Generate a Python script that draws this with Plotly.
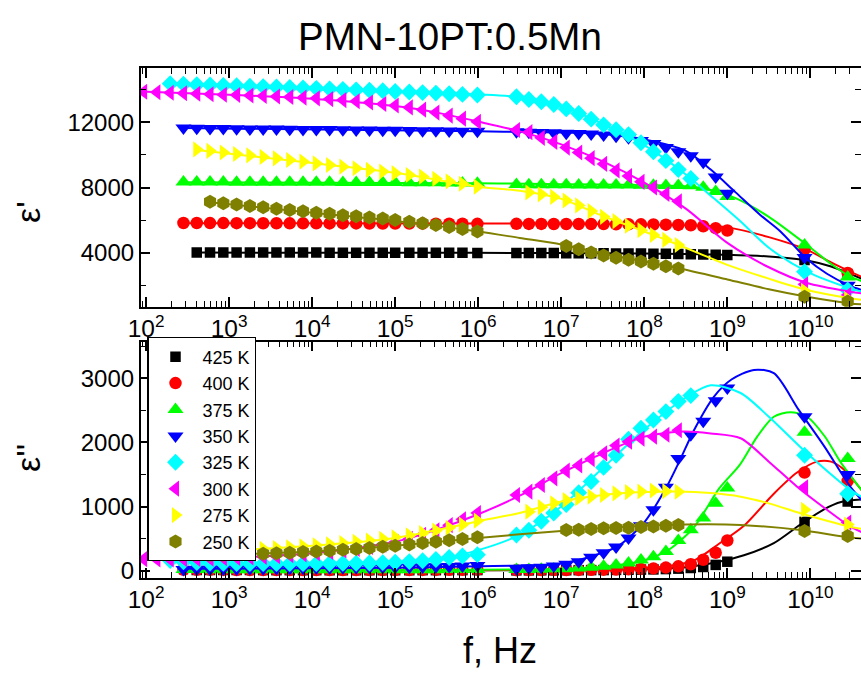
import plotly.graph_objects as go

# ---------------- data (log10 of frequency in Hz) ----------------
LF_LOG = [1.97, 2.13, 2.29, 2.45, 2.61, 2.77, 2.93, 3.09, 3.25, 3.41, 3.57, 3.73, 3.89,
          4.05, 4.21, 4.37, 4.53, 4.69, 4.85, 5.00, 5.17, 5.33, 5.49, 5.65, 5.81, 5.99]
HF_LOG = [6.46, 6.61, 6.76, 6.91, 7.06, 7.21, 7.36, 7.51, 7.66, 7.81, 7.96, 8.11,
          8.26, 8.41, 8.56, 8.71, 8.86, 9.00]
GHZ_LOG = [9.93, 10.45]

NAMES = ["425 K", "400 K", "375 K", "350 K", "325 K", "300 K", "275 K", "250 K"]
COLORS = ["#000000", "#FF0000", "#00FF00", "#0000FF", "#00FFFF", "#FF00FF", "#FFFF00", "#808000"]
SYMBOLS = ["square", "circle", "triangle-up", "triangle-down", "diamond",
           "triangle-left", "triangle-right", "hexagon"]
SIZES = [10.5, 12.5, 14, 14, 13, 14, 14, 14]
LF_FROM = [4, 3, 3, 3, 2, 0, 4, 5]
HF_FROM = [0, 0, 0, 0, 0, 0, 1, 4]
HF_TO = [18, 18, 18, 18, 15, 14, 14, 14]

# eps' (real part) markers: LF part, HF part, GHz part
E1_425 = [4010, 4010, 4005, 4005, 4005, 4000, 4000, 4000, 4000, 4000, 3995, 3995, 3995, 3995,
          3990, 3990, 3990, 3990, 3985, 3985, 3985, 3980,
          3975, 3975, 3970, 3970, 3965, 3960, 3960, 3955, 3950, 3945, 3940, 3935, 3925, 3915,
          3905, 3890, 3870, 3850,
          3550, 2650]
E1_400 = [5820, 5820, 5815, 5815, 5810, 5810, 5805, 5805, 5800, 5800, 5800, 5795, 5795, 5795,
          5790, 5790, 5790, 5785, 5785, 5780, 5780, 5775, 5770,
          5770, 5765, 5765, 5760, 5760, 5755, 5750, 5750, 5745, 5740, 5735, 5725, 5715, 5700,
          5680, 5620, 5500, 5360,
          4200, 2750]
E1_375 = [8340, 8340, 8335, 8335, 8330, 8330, 8325, 8325, 8320, 8320, 8315, 8315, 8310, 8310,
          8305, 8300, 8300, 8295, 8290, 8285, 8280, 8270, 8260,
          8180, 8175, 8170, 8170, 8165, 8160, 8160, 8155, 8150, 8150, 8145, 8140, 8130, 8120,
          8100, 8020, 7750, 7450,
          4470, 2500]
E1_350 = [11650, 11640, 11630, 11620, 11610, 11600, 11600, 11590, 11580, 11570, 11560, 11560,
          11550, 11540, 11530, 11520, 11510, 11500, 11490, 11480, 11470, 11460, 11450,
          11420, 11400, 11380, 11360, 11340, 11320, 11280, 11230, 11150, 11050, 10880, 10700,
          10450, 10200, 9950, 9550, 8650, 7650,
          3700, 2000]
E1_325 = [14380, 14350, 14320, 14300, 14270, 14250, 14220, 14200, 14170, 14150, 14120, 14090,
          14060, 14030, 14000, 13970, 13940, 13900, 13870, 13830, 13800, 13760, 13720, 13680,
          13575, 13410, 13270, 13100, 12830, 12550, 12200, 11850, 11550, 11250, 10750, 10200,
          9650, 9100, 8550,
          2830, 1700]
E1_300 = [13880, 13850, 13820, 13790, 13760, 13730, 13700, 13680, 13650, 13620, 13590, 13560,
          13520, 13480, 13430, 13370, 13300, 13220, 13130, 13040, 12920, 12780, 12600, 12420,
          12230, 12040,
          11530, 11400, 11050, 10800, 10450, 10150, 9800, 9450, 9050, 8700, 8350, 8000, 7600, 7150,
          2050, 1400]
E1_275 = [10340, 10250, 10150, 10060, 9970, 9880, 9790, 9690, 9590, 9480, 9380, 9280, 9180,
          9080, 8980, 8880, 8770, 8670, 8530, 8380, 8230, 8050,
          7700, 7580, 7420, 7200, 6900, 6550, 6200, 5930, 5650, 5380, 5080, 4780, 4470,
          1650, 1150]
E1_250 = [7130, 7040, 6950, 6860, 6780, 6700, 6620, 6540, 6450, 6380, 6300, 6230, 6160, 6090,
          6000, 5900, 5800, 5700, 5580, 5450, 5290,
          4400, 4200, 4000, 3820, 3680, 3560, 3460, 3320, 3160, 3020,
          1290, 1000]

# eps'' (imaginary part) markers
E2_425 = [12, 11, 10, 10, 9, 9, 8, 8, 8, 8, 7, 7, 7, 7, 7, 7, 7, 8, 8, 9, 9, 10,
          5, 5, 6, 6, 7, 8, 9, 10, 12, 14, 17, 20, 25, 32, 42, 58, 90, 140,
          760, 1080]
E2_400 = [15, 14, 13, 12, 11, 11, 10, 10, 10, 10, 10, 10, 10, 10, 10, 10, 11, 11, 12, 12, 13, 14, 15,
          8, 8, 9, 10, 11, 12, 14, 16, 19, 23, 28, 36, 48, 68, 100, 170, 280, 470,
          1530, 1400]
E2_375 = [20, 18, 16, 15, 14, 14, 13, 13, 13, 13, 13, 13, 13, 13, 13, 14, 14, 15, 15, 16, 17, 18, 20,
          17, 19, 22, 26, 32, 40, 52, 70, 90, 120, 166, 218, 300, 470, 640, 820, 1050, 1290,
          2160, 1750]
E2_350 = [20, 22, 24, 26, 28, 30, 32, 34, 36, 38, 40, 42, 44, 46, 48, 50, 52, 55, 58, 62, 66, 72, 80,
          30, 40, 55, 75, 100, 140, 210, 280, 370, 510, 700, 950, 1300, 1750, 2120, 2330, 2650, 2850,
          2400, 1500]
E2_325 = [160, 140, 128, 120, 115, 112, 110, 110, 110, 110, 110, 110, 112, 114, 116, 120, 125, 132,
          142, 155, 175, 205, 230, 250,
          556, 630, 770, 900, 1030, 1217, 1390, 1610, 1800, 2050, 2220, 2350, 2480, 2640, 2730,
          1800, 1200]
E2_300 = [180, 175, 175, 178, 182, 188, 195, 200, 208, 216, 226, 240, 255, 272, 292, 315, 340, 370,
          405, 445, 495, 560, 630, 710, 800, 900,
          1180, 1232, 1336, 1440, 1560, 1640, 1740, 1830, 1950, 2010, 2060, 2090, 2120, 2190,
          1300, 750]
E2_275 = [290, 300, 310, 320, 330, 340, 352, 365, 380, 395, 412, 430, 450, 470, 495, 520, 550, 585,
          625, 670, 720, 780,
          920, 990, 1050, 1100, 1130, 1155, 1180, 1205, 1225, 1235, 1250, 1240, 1230,
          950, 720]
E2_250 = [245, 250, 255, 260, 265, 272, 280, 290, 300, 312, 325, 340, 355, 372, 390, 410, 430, 450,
          475, 495, 520,
          634, 640, 650, 660, 665, 670, 680, 690, 700, 712,
          620, 540]

E1_ALL = [E1_425, E1_400, E1_375, E1_350, E1_325, E1_300, E1_275, E1_250]
E2_ALL = [E2_425, E2_400, E2_375, E2_350, E2_325, E2_300, E2_275, E2_250]

# fitted curves (log10 f, value)
F1X = [
    [2.61, 5, 7, 8, 8.5, 9.0, 9.5, 9.96, 10.25, 10.5, 10.62],
    [2.45, 6, 7, 8, 8.5, 9.0, 9.5, 9.96, 10.25, 10.48, 10.62],
    [2.45, 6, 7, 8, 8.5, 8.8, 9.1, 9.5, 9.96, 10.25, 10.48, 10.62],
    [2.45, 6, 7, 7.5, 8, 8.5, 8.8, 9.1, 9.4, 9.64, 9.96, 10.2, 10.48, 10.62],
    [2.29, 4, 6, 6.5, 7, 7.5, 8, 8.5, 8.8, 9.16, 9.5, 9.96, 10.48, 10.62],
    [1.93, 3, 4, 5, 5.5, 6, 6.5, 7, 7.5, 8, 8.5, 9.0, 9.5, 9.96, 10.48, 10.62],
    [2.61, 4, 5, 6, 6.5, 7, 7.5, 8, 8.4, 9, 9.5, 9.96, 10.48, 10.62],
    [2.77, 4, 5, 6, 6.5, 7, 7.5, 8, 8.4, 9, 9.5, 9.96, 10.48, 10.62],
]
F1Y = [
    [4000, 3995, 3975, 3945, 3920, 3870, 3760, 3520, 3150, 2650, 2400],
    [5800, 5790, 5770, 5730, 5680, 5550, 4950, 4170, 3400, 2830, 2500],
    [8320, 8260, 8200, 8150, 8070, 7850, 7350, 6200, 4470, 3300, 2520, 2250],
    [11650, 11450, 11380, 11280, 10950, 10250, 9100, 7700, 6300, 5300, 3600, 2700, 1950, 1700],
    [14350, 14030, 13720, 13550, 13000, 11900, 10600, 8800, 7500, 5910, 4300, 2830, 1800, 1600],
    [13900, 13700, 13450, 13000, 12600, 12050, 11450, 10650, 9600, 8300, 6700, 4600, 3100, 2130, 1600, 1500],
    [10300, 9500, 8900, 8050, 7800, 7300, 6250, 5300, 4500, 3250, 2400, 1700, 1190, 1100],
    [7100, 6450, 5950, 5300, 4900, 4500, 3950, 3450, 3050, 2350, 1750, 1290, 880, 820],
]
F2X = [
    [2.61, 5, 7, 8, 8.5, 8.9, 9.2, 9.56, 9.88, 10.17, 10.37, 10.62],
    [2.45, 6, 7, 7.5, 8, 8.3, 8.6, 8.9, 9.2, 9.56, 9.84, 10.08, 10.25, 10.4, 10.62],
    [2.45, 6, 7, 7.5, 8, 8.3, 8.6, 8.9, 9.15, 9.36, 9.56, 9.76, 9.96, 10.17, 10.37, 10.62],
    [2.45, 5, 6, 6.5, 7, 7.35, 7.67, 7.99, 8.27, 8.43, 8.6, 8.84, 9.05, 9.32, 9.56, 9.86, 10.17, 10.48, 10.62],
    [2.29, 3, 4, 5, 5.5, 6, 6.5, 7, 7.5, 8, 8.5, 8.8, 9.16, 9.5, 9.96, 10.48, 10.62],
    [1.93, 3, 4, 5, 5.5, 6, 6.5, 7, 7.5, 8, 8.47, 8.8, 9.16, 9.5, 9.84, 10.2, 10.48, 10.62],
    [2.61, 4, 5, 6, 6.5, 7, 7.5, 8, 8.4, 8.8, 9.16, 9.5, 9.88, 10.2, 10.48, 10.62],
    [2.77, 4, 5, 6, 7, 8, 8.5, 9.16, 9.88, 10.4, 10.62],
]
F2Y = [
    [5, 5, 10, 25, 55, 140, 240, 430, 720, 960, 1070, 1110],
    [5, 8, 15, 25, 45, 75, 160, 420, 700, 1200, 1530, 1700, 1700, 1580, 1250],
    [10, 15, 30, 60, 160, 330, 680, 1280, 1650, 2090, 2400, 2470, 2400, 2100, 1680, 1250],
    [30, 45, 70, 80, 110, 218, 374, 738, 1310, 1726, 2194, 2714, 2980, 3130, 3080, 2507, 1934, 1310, 1100],
    [150, 120, 115, 130, 170, 320, 560, 1000, 1600, 2200, 2700, 2890, 2770, 2400, 1830, 1260, 1150],
    [165, 200, 270, 450, 640, 880, 1170, 1520, 1830, 2090, 2170, 2140, 2065, 1700, 1310, 950, 690, 600],
    [290, 390, 510, 770, 900, 1080, 1180, 1225, 1235, 1210, 1154, 1050, 895, 780, 686, 650],
    [245, 300, 390, 510, 620, 700, 720, 713, 635, 530, 500],
]

TITLE = "PMN-10PT:0.5Mn"
X_TITLE = "f, Hz"
Y1_TITLE = "\u03b5'"
Y2_TITLE = "\u03b5''"

# ---------------- layout helpers ----------------
W, H = 861, 675
FONT = "Liberation Sans, Arial, sans-serif"


def px(x):
    return x / W


def py(y):
    return 1 - y / H


fig = go.Figure()

for i, name in enumerate(NAMES):
    logs = LF_LOG[LF_FROM[i]:] + HF_LOG[HF_FROM[i]:HF_TO[i]] + GHZ_LOG
    freqs = [10 ** v for v in logs]
    col = COLORS[i]
    mk = dict(symbol=SYMBOLS[i], size=SIZES[i], color=col, line=dict(width=0))
    # top panel
    fig.add_trace(go.Scatter(x=[10 ** v for v in F1X[i]], y=F1Y[i], mode="lines",
                             line=dict(color=col, width=2, shape="spline", smoothing=0.8),
                             xaxis="x", yaxis="y", showlegend=False, hoverinfo="skip"))
    fig.add_trace(go.Scatter(x=freqs, y=E1_ALL[i], mode="markers", marker=mk,
                             xaxis="x", yaxis="y", showlegend=False, name=name))
    # bottom panel
    fig.add_trace(go.Scatter(x=[10 ** v for v in F2X[i]], y=F2Y[i], mode="lines",
                             line=dict(color=col, width=2, shape="spline", smoothing=0.8),
                             xaxis="x2", yaxis="y2", showlegend=False, hoverinfo="skip"))
    fig.add_trace(go.Scatter(x=freqs, y=E2_ALL[i], mode="markers", marker=mk,
                             xaxis="x2", yaxis="y2", showlegend=True, name=name))

X0 = 140.7
xcommon = dict(type="log", range=[1.935, 10.61], domain=[px(X0), 1.0],
               tickmode="linear", tick0=0, dtick=1, exponentformat="power",
               tickfont=dict(family=FONT, size=19.6, color="black"),
               ticks="inside", ticklen=10, tickwidth=1.5, tickcolor="black",
               showline=True, linewidth=1.5, linecolor="black", mirror="ticks",
               showgrid=False, zeroline=False,
               minor=dict(ticks="inside", ticklen=6, tickwidth=1.2, tickcolor="black",
                          dtick="D1", showgrid=False))
ycommon = dict(tickfont=dict(family=FONT, size=24, color="black"), tickformat="d",
               ticks="inside", ticklen=10, tickwidth=1.5, tickcolor="black",
               showline=True, linewidth=1.5, linecolor="black", mirror="ticks",
               showgrid=False, zeroline=False)

fig.update_layout(
    width=W, height=H,
    margin=dict(l=0, r=0, t=0, b=0, autoexpand=False),
    paper_bgcolor="white", plot_bgcolor="white",
    font=dict(family=FONT, color="black"),
    xaxis=dict(anchor="y", **xcommon),
    xaxis2=dict(anchor="y2", **xcommon),
    yaxis=dict(anchor="x", domain=[py(306.7), py(68.3)], range=[677, 15323],
               tick0=0, dtick=4000,
               minor=dict(ticks="inside", ticklen=6, tickwidth=1.2, tickcolor="black", dtick=2000),
               **ycommon),
    yaxis2=dict(anchor="x2", domain=[py(578), py(341.7)], range=[-114, 3570],
                tick0=0, dtick=1000,
                minor=dict(ticks="inside", ticklen=6, tickwidth=1.2, tickcolor="black", dtick=500),
                **ycommon),
    legend=dict(x=px(147.3), y=py(337.3), xanchor="left", yanchor="top",
                bgcolor="white", bordercolor="black", borderwidth=1.2,
                font=dict(family=FONT, size=18, color="black"),
                itemwidth=44, tracegroupgap=0),
    showlegend=True,
    annotations=[
        dict(text=TITLE, x=px(450), y=py(36), xref="paper", yref="paper",
             showarrow=False, xanchor="center", yanchor="middle",
             font=dict(family=FONT, size=38.5, color="black")),
        dict(text=X_TITLE, x=px(500), y=py(650), xref="paper", yref="paper",
             showarrow=False, xanchor="center", yanchor="middle",
             font=dict(family=FONT, size=36, color="black")),
        dict(text=Y1_TITLE, x=px(28), y=py(212), xref="paper", yref="paper",
             showarrow=False, xanchor="center", yanchor="middle", textangle=-90,
             font=dict(family=FONT, size=34, color="black")),
        dict(text=Y2_TITLE, x=px(28), y=py(458), xref="paper", yref="paper",
             showarrow=False, xanchor="center", yanchor="middle", textangle=-90,
             font=dict(family=FONT, size=34, color="black")),
    ],
)

fig.write_html("out.html", config={"displayModeBar": False},
               post_script="document.body.style.margin='0';")
